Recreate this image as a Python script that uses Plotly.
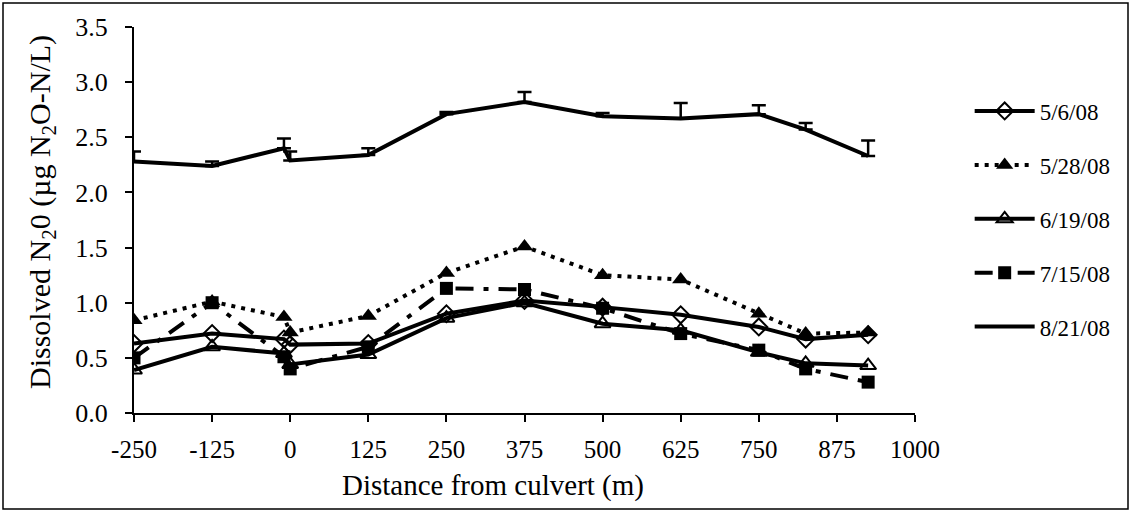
import plotly.graph_objects as go

distance = [-250, -125, -10, 0, 125, 250, 375, 500, 625, 750, 825, 925]
s_0506 = [0.63, 0.72, 0.67, 0.62, 0.63, 0.90, 1.02, 0.96, 0.89, 0.78, 0.67, 0.71]
s_0528 = [0.84, 1.01, 0.87, 0.73, 0.88, 1.27, 1.51, 1.25, 1.21, 0.90, 0.72, 0.73]
s_0619 = [0.39, 0.60, 0.54, 0.44, 0.53, 0.86, 1.00, 0.81, 0.75, 0.55, 0.45, 0.43]
s_0715 = [0.50, 1.00, 0.51, 0.40, 0.60, 1.13, 1.12, 0.95, 0.72, 0.57, 0.40, 0.28]
s_0821 = [2.28, 2.24, 2.40, 2.29, 2.34, 2.71, 2.82, 2.69, 2.67, 2.71, 2.57, 2.33]
err_0821 = [0.09, 0.04, 0.09, 0.08, 0.06, 0.02, 0.09, 0.03, 0.14, 0.08, 0.06, 0.14]
x_ticks = [-250, -125, 0, 125, 250, 375, 500, 625, 750, 875, 1000]
y_ticks = [0.0, 0.5, 1.0, 1.5, 2.0, 2.5, 3.0, 3.5]

FONT = "Liberation Serif"
fig = go.Figure()

fig.add_trace(go.Scatter(
    x=distance, y=s_0506, name="5/6/08", legendgroup="a", mode="lines+markers",
    line=dict(color="black", width=4),
    marker=dict(symbol="diamond-open", size=13, color="black", line=dict(width=2))))
fig.add_trace(go.Scatter(
    x=distance, y=s_0528, name="5/28/08", legendgroup="b", mode="lines+markers",
    line=dict(color="black", width=4, dash="4px,6px"),
    marker=dict(symbol="triangle-up", size=15, color="black")))
fig.add_trace(go.Scatter(
    x=distance, y=s_0619, name="6/19/08", legendgroup="c", mode="lines+markers",
    line=dict(color="black", width=4),
    marker=dict(symbol="triangle-up-open", size=14, color="black", line=dict(width=2))))
fig.add_trace(go.Scatter(
    x=distance, y=s_0715, name="7/15/08", legendgroup="d", mode="lines+markers",
    line=dict(color="black", width=4, dash="18px,10px,5px,10px"),
    marker=dict(symbol="square", size=13, color="black")))
fig.add_trace(go.Scatter(
    x=distance, y=s_0821, name="8/21/08", legendgroup="e", mode="lines",
    line=dict(color="black", width=4),
    error_y=dict(type="data", symmetric=False, array=err_0821,
                 arrayminus=[0] * len(err_0821), color="black", thickness=2.5, width=7)))

fig.update_layout(
    width=1131, height=512,
    margin=dict(l=134, r=216, t=27, b=99),
    paper_bgcolor="white", plot_bgcolor="white",
    font=dict(family=FONT, color="black", size=25),
    showlegend=True,
    legend=dict(x=1.07, xanchor="left", y=0.838, yanchor="top",
                font=dict(family=FONT, size=23, color="black"),
                tracegroupgap=21, itemwidth=60, bgcolor="rgba(0,0,0,0)"),
    xaxis=dict(range=[-250, 1000], tickvals=x_ticks, ticktext=[str(v) for v in x_ticks],
               showgrid=False, zeroline=False, showline=True, linecolor="black", linewidth=2,
               ticks="outside", ticklen=7, tickwidth=2, tickcolor="black",
               tickfont=dict(family=FONT, size=25), ticklabelstandoff=6),
    yaxis=dict(range=[0, 3.5], tickvals=y_ticks, ticktext=[f"{v:.1f}" for v in y_ticks],
               showgrid=False, zeroline=False, showline=True, linecolor="black", linewidth=2,
               ticks="outside", ticklen=7, tickwidth=2, tickcolor="black",
               tickfont=dict(family=FONT, size=26), ticklabelstandoff=12),
    annotations=[
        dict(text="Distance from culvert (m)", xref="paper", yref="paper",
             x=(493 - 134) / 781, y=(413 - 485) / 386, xanchor="center", yanchor="middle",
             showarrow=False, font=dict(family=FONT, size=29, color="black")),
        dict(text="Dissolved N<sub>2</sub>0 (µg N<sub>2</sub>O-N/L)", xref="paper", yref="paper",
             x=(42 - 134) / 781, y=(413 - 212) / 386, xanchor="center", yanchor="middle",
             textangle=-90, showarrow=False, font=dict(family=FONT, size=30, color="black")),
    ],
    shapes=[dict(type="rect", xref="paper", yref="paper",
                 x0=(3 - 134) / 781, x1=(1128 - 134) / 781,
                 y0=(413 - 509) / 386, y1=(413 - 3) / 386,
                 line=dict(color="black", width=1.5), fillcolor="rgba(0,0,0,0)")],
)

fig.write_html("out.html")
